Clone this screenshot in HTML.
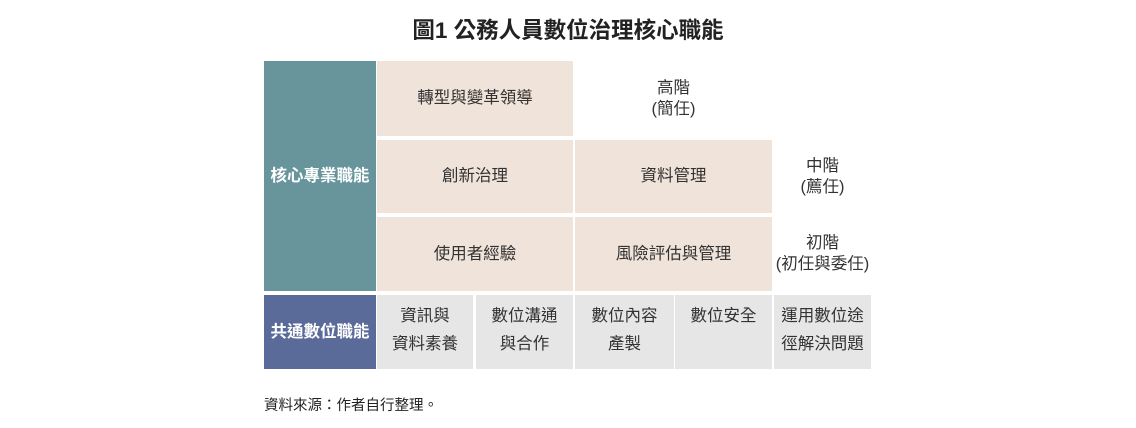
<!DOCTYPE html>
<html><head><meta charset="utf-8"><style>
body{margin:0;width:1136px;height:428px;background:#fff;font-family:"Liberation Sans","Noto Sans CJK TC",sans-serif;position:relative;overflow:hidden;color:#333}
.a{position:absolute;display:flex;align-items:center;justify-content:center;text-align:center;font-size:16.5px;line-height:21px}
.b{background:#efe3da}
.g{background:#e6e6e6;align-items:flex-start;padding-top:7px;box-sizing:border-box;line-height:28px}
.t{position:absolute;left:0;width:1136px;top:13px;text-align:center;font-size:22.5px;font-weight:bold;color:#222}
.f{position:absolute;left:264px;top:394px;font-size:14.5px;color:#222}
</style></head><body>
<div class="t">圖1 公務人員數位治理核心職能</div>
<div class="a" style="left:264px;top:61px;width:112px;height:230px;background:#68959c;color:#fff;font-weight:bold">核心專業職能</div>
<div class="a" style="left:264px;top:295px;width:112px;height:74px;background:#5b6b99;color:#fff;font-weight:bold">共通數位職能</div>
<div class="a b" style="left:377px;top:61px;width:196px;height:75px">轉型與變革領導</div>
<div class="a" style="left:575px;top:61px;width:197px;height:75px">高階<br>(簡任)</div>
<div class="a b" style="left:377px;top:140px;width:196px;height:73px">創新治理</div>
<div class="a b" style="left:575px;top:140px;width:197px;height:73px">資料管理</div>
<div class="a" style="left:774px;top:140px;width:97px;height:73px">中階<br>(薦任)</div>
<div class="a b" style="left:377px;top:217px;width:196px;height:74px">使用者經驗</div>
<div class="a b" style="left:575px;top:217px;width:197px;height:74px">風險評估與管理</div>
<div class="a" style="left:770px;top:217px;width:105px;height:74px">初階<br>(初任與委任)</div>
<div class="a g" style="left:377px;top:295px;width:96px;height:74px">資訊與<br>資料素養</div>
<div class="a g" style="left:476px;top:295px;width:97px;height:74px">數位溝通<br>與合作</div>
<div class="a g" style="left:575px;top:295px;width:99px;height:74px">數位內容<br>產製</div>
<div class="a g" style="left:675px;top:295px;width:97px;height:74px">數位安全</div>
<div class="a g" style="left:774px;top:295px;width:97px;height:74px">運用數位途<br>徑解決問題</div>
<div class="f">資料來源：作者自行整理。</div>
</body></html>
